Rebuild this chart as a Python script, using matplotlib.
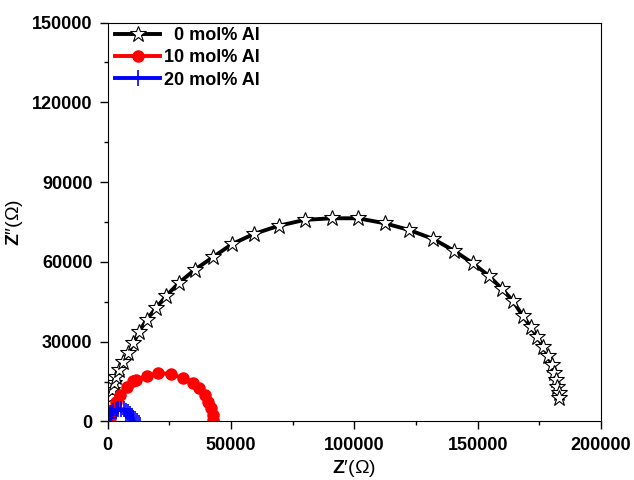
import matplotlib.pyplot as plt
import matplotlib as mpl
from matplotlib.ticker import MultipleLocator

mpl.rcParams['font.family'] = ['Liberation Sans', 'DejaVu Sans']
mpl.rcParams['mathtext.fontset'] = 'custom'
mpl.rcParams['mathtext.rm'] = 'Liberation Sans'
mpl.rcParams['mathtext.bf'] = 'Liberation Sans:weight=bold'

# 0 mol% Al (black stars)
x0 = [300, 600, 1000, 1600, 2400, 3200, 4600, 6200, 8200, 10300, 12700, 15700,
      19500, 23800, 28700, 35200, 42500, 50400, 59200, 69400, 79900, 90800,
      101500, 112400, 122200, 132000, 140400, 148000, 154600, 160000, 164200,
      168200, 171500, 174200, 176600, 178600, 180000, 181100, 181800, 182300,
      182900, 183100]
y0 = [3900, 6600, 9200, 11800, 14500, 16800, 19400, 22500, 25600, 29400, 33800,
      38200, 42600, 47300, 52000, 57000, 61700, 66700, 70500, 73600, 75800,
      76400, 76400, 74500, 72000, 68600, 64200, 59500, 54700, 49700, 45400,
      39800, 35600, 31700, 28100, 24600, 21300, 18300, 15600, 13100, 10600, 8700]

# 10 mol% Al (red circles)
x10 = [300, 1100, 1900, 3200, 4900, 7600, 10300, 11400, 15700, 20400, 25600,
       30600, 34400, 37000, 39400, 40700, 41800, 42500, 42700]
y10 = [500, 1200, 4300, 7400, 10000, 13100, 15200, 15600, 17100, 18100, 17900,
       16200, 14600, 12500, 10000, 7400, 5000, 2400, 600]

# 20 mol% Al (blue plus)
x20 = [300, 700, 1300, 2200, 3200, 4300, 5400, 6500, 7500, 8400, 9200, 9800,
       10200, 10400]
y20 = [1200, 2300, 3200, 3900, 4400, 4600, 4600, 4500, 4100, 3500, 2800, 2000,
       1200, 500]

fig = plt.figure(figsize=(6.34, 4.8), dpi=100)
ax = fig.add_axes([0.170, 0.122, 0.778, 0.831])

ax.plot(x0, y0, '-', color='black', lw=2.8, marker='*', ms=12,
        mfc='white', mec='black', mew=0.8, label='  0 mol% Al')
ax.plot(x10, y10, '-', color='red', lw=2.8, marker='o', ms=8,
        mfc='red', mec='red', label='10 mol% Al')
ax.plot(x20, y20, '-', color='blue', lw=2.8, marker='+', ms=11,
        mew=1.2, label='20 mol% Al')

ax.set_xlim(0, 200000)
ax.set_ylim(0, 150000)
ax.xaxis.set_major_locator(MultipleLocator(50000))
ax.xaxis.set_minor_locator(MultipleLocator(25000))
ax.yaxis.set_major_locator(MultipleLocator(30000))
ax.yaxis.set_minor_locator(MultipleLocator(15000))
ax.tick_params(which='both', direction='out', top=False, right=False)
ax.tick_params(which='major', length=6, width=1, pad=5)
ax.tick_params(which='minor', length=3, width=1)
for lab in ax.get_xticklabels() + ax.get_yticklabels():
    lab.set_fontsize(13)
    lab.set_fontweight('bold')

ax.set_xlabel("$\\mathbf{Z}$\u2032(\u03a9)", fontsize=14, labelpad=3)
ax.set_ylabel("$\\mathbf{Z}$\u2033(\u03a9)", fontsize=14, labelpad=5)

leg = ax.legend(loc='upper left', bbox_to_anchor=(0.008, 0.998), frameon=False,
                handlelength=2.5, handletextpad=0.2, labelspacing=0.3,
                borderaxespad=0.1, borderpad=0.1,
                prop={'weight': 'bold', 'size': 13})

fig.savefig('out.png', dpi=100)
